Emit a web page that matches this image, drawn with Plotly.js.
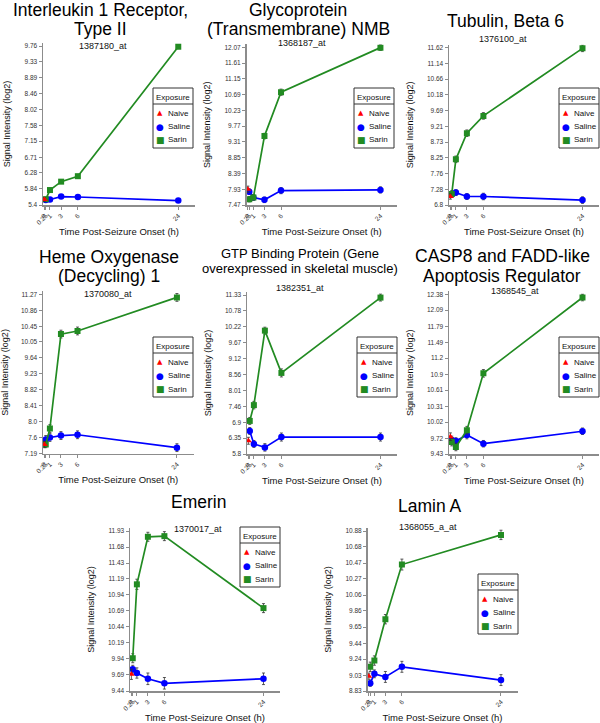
<!DOCTYPE html>
<html><head><meta charset="utf-8">
<script src="https://cdn.plot.ly/plotly-3.0.1.min.js"></script>
<style>html,body{margin:0;padding:0;background:#fff}#chart{width:600px;height:723px}</style>
</head><body><div id="chart"></div>
<script>
// ---------- data ----------
const timeHours = [0.25, 1, 3, 6, 24];
const naiveTime = [0];
const xTickVals = [0, 0.25, 1, 3, 6, 24];
const xTickText = ['0', '0.25', '1', '3', '6', '24'];
const seriesNames = ['Naive', 'Saline', 'Sarin'];
const legendTitle = 'Exposure';

const titleLines = [
  ['Interleukin 1 Receptor,', 'Type II'],
  ['Glycoprotein', '(Transmembrane) NMB'],
  ['Tubulin, Beta 6'],
  ['Heme Oxygenase', '(Decycling) 1'],
  ['GTP Binding Protein (Gene', 'overexpressed in skeletal muscle)'],
  ['CASP8 and FADD-like', 'Apoptosis Regulator'],
  ['Emerin'],
  ['Lamin A']
];
const probeIds = ['1387180_at', '1368187_at', '1376100_at', '1370080_at', '1382351_at', '1368545_at', '1370017_at', '1368055_a_at'];

const yTickLabels = [
  ['5.4','5.84','6.28','6.71','7.15','7.58','8.02','8.46','8.89','9.33','9.76'],
  ['7.47','7.93','8.39','8.85','9.31','9.77','10.23','10.69','11.15','11.61','12.07'],
  ['6.8','7.28','7.76','8.25','8.73','9.21','9.69','10.18','10.66','11.14','11.62'],
  ['7.19','7.6','8.0','8.41','8.82','9.23','9.64','10.05','10.45','10.86','11.27'],
  ['5.8','6.35','6.9','7.46','8.01','8.56','9.12','9.67','10.22','10.78','11.33'],
  ['9.43','9.72','10.02','10.31','10.61','10.9','11.2','11.49','11.79','12.09','12.38'],
  ['9.44','9.69','9.94','10.19','10.44','10.69','10.94','11.19','11.43','11.68','11.93'],
  ['8.83','9.03','9.24','9.44','9.65','9.86','10.06','10.27','10.47','10.68','10.88']
];

const naiveValues = [5.55, 7.93, 7.06, 7.42, 6.26, 9.75, 9.70, 9.02];
const naiveErrors = [0.05, 0.09, 0.08, 0.08, 0.12, 0.07, 0.08, 0.04];

const salineValues = [
  [5.54, 5.55, 5.63, 5.62, 5.52],
  [7.86, 7.69, 7.62, 7.89, 7.91],
  [7.12, 7.18, 7.06, 7.06, 6.95],
  [7.55, 7.60, 7.65, 7.67, 7.34],
  [6.60, 6.15, 6.03, 6.39, 6.39],
  [9.69, 9.67, 9.78, 9.62, 9.85],
  [9.78, 9.72, 9.63, 9.56, 9.63],
  [8.93, 9.05, 9.01, 9.14, 8.97]
];
const salineErrors = [
  [0.05, 0.04, 0.05, 0.05, 0.04],
  [0.08, 0.07, 0.08, 0.09, 0.09],
  [0.08, 0.09, 0.09, 0.10, 0.10],
  [0.10, 0.10, 0.10, 0.10, 0.10],
  [0.12, 0.12, 0.13, 0.14, 0.14],
  [0.07, 0.06, 0.07, 0.06, 0.06],
  [0.06, 0.08, 0.09, 0.09, 0.09],
  [0.04, 0.05, 0.07, 0.07, 0.07]
];
const sarinValues = [
  [5.56, 5.81, 6.04, 6.19, 9.74],
  [7.64, 7.69, 9.48, 10.76, 12.06],
  [7.14, 8.20, 9.00, 9.53, 11.60],
  [7.42, 7.83, 10.25, 10.33, 11.19],
  [6.95, 7.50, 10.09, 8.62, 11.24],
  [9.65, 9.56, 9.87, 10.92, 12.32],
  [9.95, 11.10, 11.84, 11.85, 10.73],
  [9.14, 9.22, 9.75, 10.45, 10.83]
];
const sarinErrors = [
  [0.05, 0.05, 0.05, 0.05, 0.05],
  [0.08, 0.08, 0.08, 0.09, 0.08],
  [0.10, 0.10, 0.10, 0.10, 0.10],
  [0.08, 0.10, 0.10, 0.10, 0.10],
  [0.12, 0.13, 0.12, 0.14, 0.12],
  [0.07, 0.07, 0.07, 0.07, 0.06],
  [0.07, 0.08, 0.07, 0.07, 0.07],
  [0.06, 0.06, 0.06, 0.07, 0.06]
];

// ---------- layout geometry (pixels) ----------
const W = 600, H = 723;
const panels = [
  {x0: 43,    x1: 195,   top: 46,    bot: 205,   tl: [10, 29],   tx: 100, ts: 17.5, sy: 46,  sx: 103, lg: [193, 88]},
  {x0: 246.5, x1: 397,   top: 47.3,  bot: 205,   tl: [10.5, 29.5], tx: 298, ts: 17.5, sy: 43,  sx: 302, lg: [394, 88]},
  {x0: 449,   x1: 599,   top: 47.7,  bot: 205,   tl: [21],       tx: 505, ts: 17.5, sy: 39,  sx: 503, lg: [599, 88]},
  {x0: 43,    x1: 193.5, top: 294.3, bot: 453.5, tl: [256.7, 276], tx: 109, ts: 17.5, sy: 294, sx: 108, lg: [193, 337]},
  {x0: 247,   x1: 397,   top: 295,   bot: 454,   tl: [253.7, 268.5], tx: 300, ts: 13, sy: 288, sx: 300, lg: [397, 337]},
  {x0: 449,   x1: 599,   top: 294.3, bot: 454,   tl: [255.8, 276], tx: 502, ts: 17.5, sy: 291, sx: 515, lg: [599, 337]},
  {x0: 130,   x1: 280,   top: 531,   bot: 691,   tl: [501.7],    tx: 198, ts: 17.5, sy: 529, sx: 198, lg: [280, 527]},
  {x0: 367.5, x1: 517.5, top: 531,   bot: 691,   tl: [506],      tx: 430, ts: 17.5, sy: 527, sx: 428, lg: [518, 574]}
];

const FONT = 'Liberation Sans, Arial, sans-serif';
const AXC = '#8c8c8c';
const colors = {Naive: '#ff0000', Saline: '#0000ff', Sarin: '#228b22'};
const symbols = {Naive: 'triangle-up', Saline: 'circle', Sarin: 'square'};
const glyphs = {Naive: '\u25B2', Saline: '\u25CF', Sarin: '\u25A0'};
const glyphSize = {Naive: 7, Saline: 9, Sarin: 9};

const traces = [];
const layout = {
  width: W, height: H,
  margin: {l: 0, r: 0, t: 0, b: 0},
  paper_bgcolor: '#fff', plot_bgcolor: '#fff',
  font: {family: FONT, color: '#000'},
  showlegend: false,
  annotations: [], shapes: []
};
const px = v => v / W, py = v => 1 - v / H;

panels.forEach((p, i) => {
  const sfx = i === 0 ? '' : String(i + 1);
  const xa = 'x' + sfx, ya = 'y' + sfx;
  const ticks = yTickLabels[i].map(parseFloat);
  const ymin = ticks[0], ymax = ticks[ticks.length - 1];
  const pxPerUnit = (p.bot - p.top) / (ymax - ymin);
  const padTop = 3;

  layout['xaxis' + sfx] = {
    domain: [px(p.x0), px(p.x1)], anchor: ya,
    range: [-0.25, 27.0],
    tickmode: 'array', tickvals: xTickVals, ticktext: xTickText, tickangle: -45,
    tickfont: {size: 6.5, color: '#333'},
    showline: true, linecolor: AXC, linewidth: 1.5,
    ticks: 'outside', ticklen: 3, tickcolor: AXC, tickwidth: 1,
    showgrid: false, zeroline: false, fixedrange: true,
    title: {text: 'Time Post-Seizure Onset (h)', font: {size: 9.5, color: '#111'}, standoff: 3}
  };
  layout['yaxis' + sfx] = {
    domain: [py(p.bot), py(p.top - padTop)], anchor: xa,
    range: [ymin, ymax + padTop / pxPerUnit],
    tickmode: 'array', tickvals: ticks, ticktext: yTickLabels[i],
    tickfont: {size: 6.5, color: '#333'},
    showline: true, linecolor: AXC, linewidth: 1.5,
    ticks: 'outside', ticklen: 3, tickcolor: AXC, tickwidth: 1,
    showgrid: false, zeroline: false, fixedrange: true,
    title: {text: 'Signal Intensity (log2)', font: {size: 9, color: '#111'}, standoff: 12}
  };

  const errStyle = {type: 'data', visible: true, color: '#333', thickness: 0.8, width: 1.5};

  traces.push({
    type: 'scatter', mode: 'lines+markers', name: 'Saline', xaxis: xa, yaxis: ya,
    x: timeHours, y: salineValues[i],
    error_y: Object.assign({array: salineErrors[i]}, errStyle),
    line: {color: colors.Saline, width: 1.7},
    marker: {color: colors.Saline, symbol: symbols.Saline, size: 6.5}
  });
  traces.push({
    type: 'scatter', mode: 'lines+markers', name: 'Sarin', xaxis: xa, yaxis: ya,
    x: timeHours, y: sarinValues[i],
    error_y: Object.assign({array: sarinErrors[i]}, errStyle),
    line: {color: colors.Sarin, width: 1.7},
    marker: {color: colors.Sarin, symbol: symbols.Sarin, size: 6}
  });
  traces.push({
    type: 'scatter', mode: 'markers', name: 'Naive', xaxis: xa, yaxis: ya,
    x: naiveTime, y: [naiveValues[i]],
    error_y: Object.assign({array: [naiveErrors[i]]}, errStyle),
    marker: {color: colors.Naive, symbol: symbols.Naive, size: 6}
  });

  // legend box (40 x 60 px) drawn as layout shapes + text
  const L = p.lg[0] - 40, T = p.lg[1];
  layout.shapes.push({
    type: 'rect', xref: 'paper', yref: 'paper', layer: 'above',
    x0: px(L), x1: px(L + 40), y0: py(T), y1: py(T + 60),
    line: {color: '#333', width: 1}, fillcolor: '#fff'
  });
  layout.shapes.push({
    type: 'line', xref: 'paper', yref: 'paper', layer: 'above',
    x0: px(L), x1: px(L + 40), y0: py(T + 16), y1: py(T + 16),
    line: {color: '#333', width: 1}
  });
  layout.annotations.push({
    text: legendTitle, xref: 'paper', yref: 'paper', x: px(L + 20), y: py(T + 9.5),
    xanchor: 'center', yanchor: 'middle', showarrow: false,
    font: {size: 8, color: '#111', family: FONT}
  });
  seriesNames.forEach((n, k) => {
    const rowY = T + 25 + k * 13.5;
    layout.annotations.push({
      text: glyphs[n], xref: 'paper', yref: 'paper', x: px(L + 7), y: py(rowY),
      xanchor: 'center', yanchor: 'middle', showarrow: false,
      font: {size: glyphSize[n], color: colors[n], family: 'DejaVu Sans'}
    });
    layout.annotations.push({
      text: n, xref: 'paper', yref: 'paper', x: px(L + 12.5), y: py(rowY),
      xanchor: 'left', yanchor: 'middle', showarrow: false,
      font: {size: 8, color: '#111', family: FONT}
    });
  });

  // titles
  titleLines[i].forEach((t, k) => {
    layout.annotations.push({
      text: t, xref: 'paper', yref: 'paper', x: px(p.tx), y: py(p.tl[k]),
      xanchor: 'center', yanchor: 'middle', showarrow: false,
      font: {size: p.ts, color: '#000', family: FONT}
    });
  });
  layout.annotations.push({
    text: probeIds[i], xref: 'paper', yref: 'paper', x: px(p.sx), y: py(p.sy),
    xanchor: 'center', yanchor: 'middle', showarrow: false,
    font: {size: 9, color: '#111', family: FONT}
  });
});

Plotly.newPlot('chart', traces, layout, {staticPlot: true, displayModeBar: false});
</script>
</body></html>
